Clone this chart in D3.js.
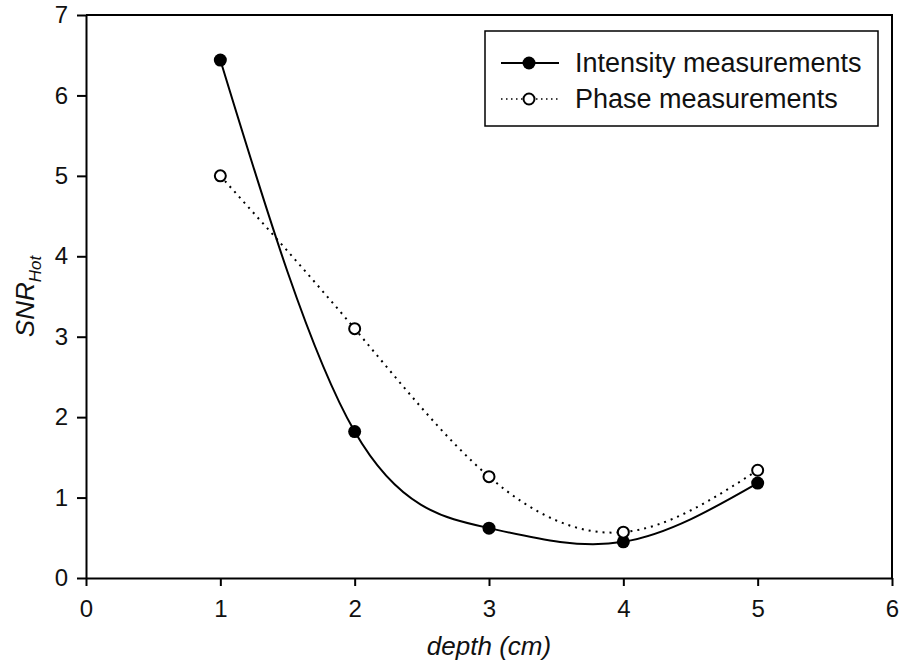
<!DOCTYPE html>
<html>
<head>
<meta charset="utf-8">
<script src="https://cdn.jsdelivr.net/npm/d3@7"></script>
<style>
  body { margin: 0; background: #fff; }
  svg { display: block; }
</style>
</head>
<body>
<div id="chart"></div>
<script>
// values
const depths = [1, 2, 3, 4, 5];
const intensity = [6.44, 1.82, 0.62, 0.45, 1.18];
const phase = [5.0, 3.1, 1.26, 0.57, 1.34];
const xTicks = [0, 1, 2, 3, 4, 5, 6];
const yTicks = [0, 1, 2, 3, 4, 5, 6, 7];
const seriesNames = ["Intensity measurements", "Phase measurements"];

const width = 901;
const height = 665;
const margin = { top: 15, right: 9, bottom: 87, left: 86 };
const fontFamily = "Liberation Sans, Arial, sans-serif";

const x = d3.scaleLinear().domain([0, 6]).range([margin.left, width - margin.right]);
const y = d3.scaleLinear().domain([0, 7]).range([height - margin.bottom, margin.top]);

const svg = d3
  .select("#chart")
  .append("svg")
  .attr("width", width)
  .attr("height", height)
  .attr("font-family", fontFamily);

// frame (top + right lines, no ticks)
svg
  .append("path")
  .attr("d", `M${x(0)},${y(7)}H${x(6)}V${y(0)}`)
  .attr("fill", "none")
  .attr("stroke", "black")
  .attr("stroke-width", 2);

const xAxis = svg
  .append("g")
  .attr("transform", `translate(0,${y(0)})`)
  .call(d3.axisBottom(x).tickValues(xTicks).tickFormat(d3.format("d")).tickSize(8).tickSizeOuter(0));

const yAxis = svg
  .append("g")
  .attr("transform", `translate(${x(0)},0)`)
  .call(d3.axisLeft(y).tickValues(yTicks).tickFormat(d3.format("d")).tickSize(9).tickSizeOuter(0));

[xAxis, yAxis].forEach((g) => {
  g.attr("font-size", 24).attr("font-family", fontFamily);
  g.select(".domain").attr("stroke-width", 2);
  g.selectAll(".tick line").attr("stroke-width", 2);
  g.selectAll(".tick text").attr("fill", "#111");
});
xAxis.selectAll(".tick text").attr("y", 22).attr("dy", "0.71em");
yAxis.selectAll(".tick text").attr("x", -18);

// axis titles
svg
  .append("text")
  .attr("x", (x(0) + x(6)) / 2)
  .attr("y", 655)
  .attr("text-anchor", "middle")
  .attr("font-size", 26)
  .attr("font-style", "italic")
  .attr("fill", "#111")
  .text("depth (cm)");

const yTitle = svg
  .append("text")
  .attr("transform", `translate(34,${(y(0) + y(7)) / 2}) rotate(-90)`)
  .attr("text-anchor", "middle")
  .attr("font-size", 26)
  .attr("font-style", "italic")
  .attr("fill", "#111");
yTitle.append("tspan").text("SNR");
yTitle.append("tspan").attr("font-size", 17).attr("dy", 7).text("Hot");

const line = d3
  .line()
  .x((d) => x(d[0]))
  .y((d) => y(d[1]))
  .curve(d3.curveNatural);

const intensityPts = depths.map((d, i) => [d, intensity[i]]);
const phasePts = depths.map((d, i) => [d, phase[i]]);

svg
  .append("path")
  .datum(phasePts)
  .attr("d", line)
  .attr("fill", "none")
  .attr("stroke", "black")
  .attr("stroke-width", 2)
  .attr("stroke-dasharray", "2,5");

svg
  .append("path")
  .datum(intensityPts)
  .attr("d", line)
  .attr("fill", "none")
  .attr("stroke", "black")
  .attr("stroke-width", 2);

svg
  .append("g")
  .selectAll("circle")
  .data(intensityPts)
  .join("circle")
  .attr("cx", (d) => x(d[0]))
  .attr("cy", (d) => y(d[1]))
  .attr("r", 6.5)
  .attr("fill", "black");

svg
  .append("g")
  .selectAll("circle")
  .data(phasePts)
  .join("circle")
  .attr("cx", (d) => x(d[0]))
  .attr("cy", (d) => y(d[1]))
  .attr("r", 5.5)
  .attr("fill", "white")
  .attr("stroke", "black")
  .attr("stroke-width", 2);

// legend
const legend = svg.append("g").attr("transform", "translate(485,31)");
legend
  .append("rect")
  .attr("width", 393)
  .attr("height", 95)
  .attr("fill", "white")
  .attr("stroke", "black")
  .attr("stroke-width", 1.5);

const rows = legend
  .selectAll("g")
  .data(seriesNames)
  .join("g")
  .attr("transform", (d, i) => `translate(0,${32 + i * 36})`);

rows
  .append("line")
  .attr("x1", 16)
  .attr("x2", 74)
  .attr("stroke", "black")
  .attr("stroke-width", (d, i) => (i === 0 ? 2 : 1.5))
  .attr("stroke-dasharray", (d, i) => (i === 0 ? null : "1.5,3.5"));

rows
  .append("circle")
  .attr("cx", 44)
  .attr("r", (d, i) => (i === 0 ? 6.5 : 5.5))
  .attr("fill", (d, i) => (i === 0 ? "black" : "white"))
  .attr("stroke", "black")
  .attr("stroke-width", (d, i) => (i === 0 ? 0 : 2));

rows
  .append("text")
  .attr("x", 90)
  .attr("dy", "0.35em")
  .attr("font-size", 27)
  .attr("fill", "#111")
  .text((d) => d);
</script>
</body>
</html>
